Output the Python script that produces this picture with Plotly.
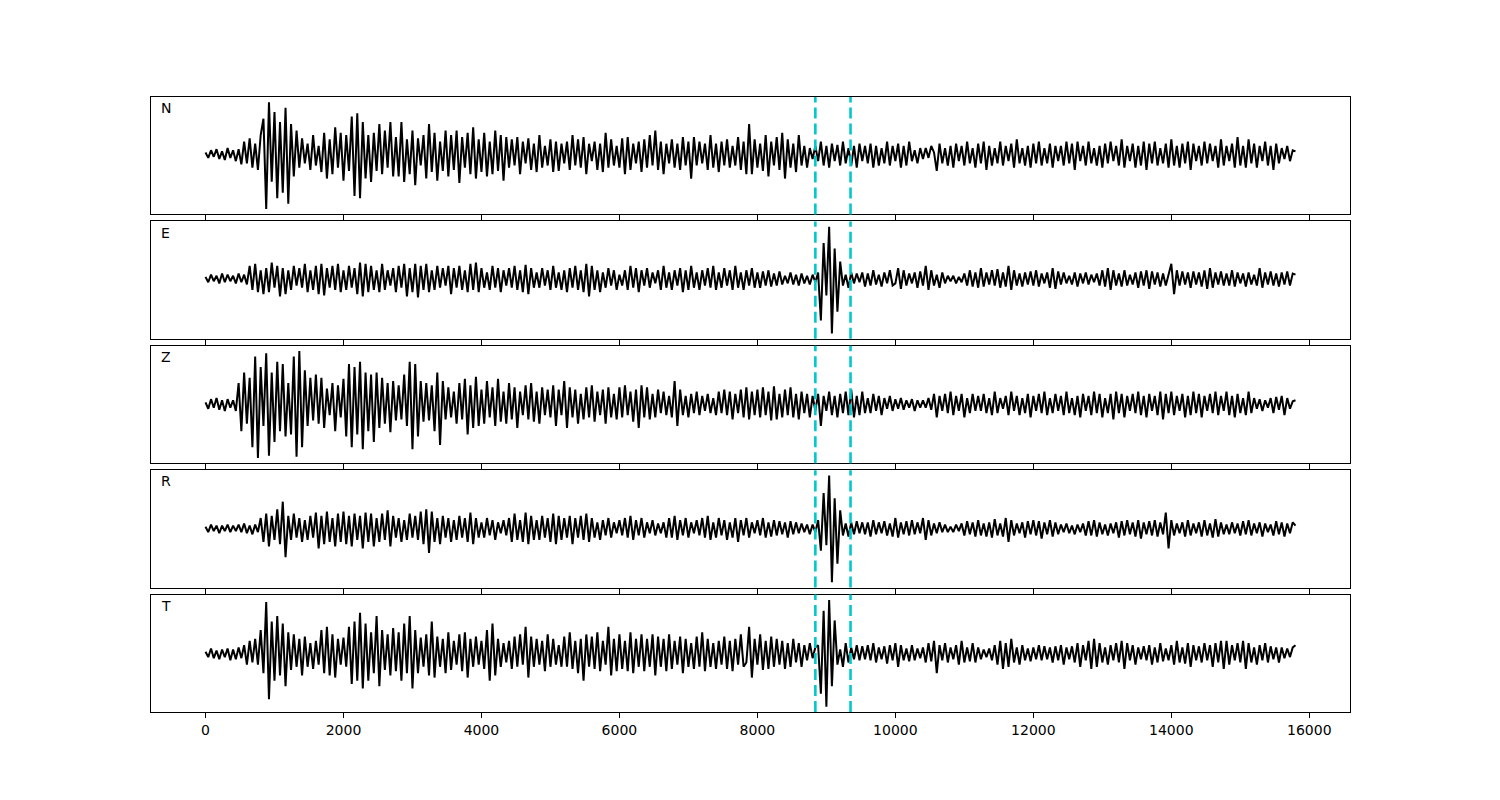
import numpy as np
import plotly.graph_objects as go
from plotly.subplots import make_subplots

# record length (samples) and the two picked times
duration = 15800
picks = [8840, 9350]
components = ["N", "E", "Z", "R", "T"]

trace_n = [
    2, -3, 4, -2, 5, -4, 3, -5, 6, -3,
    4, -6, 5, -9, 12, -8, 15, -12, 10, -14,
    18, 33, -50, 48, -25, 39, -40, 30, -35, 43,
    -45, 28, -20, 22, -12, 15, -8, 10, -14, 18,
    -10, 8, -16, 20, -22, 14, -18, 25, -12, 20,
    -24, 18, -15, 35, -38, 38, -40, 30, -22, 18,
    -25, 20, -15, 28, -18, 22, -12, 30, -20, 16,
    -20, 30, -25, 14, -18, 22, -28, 15, -10, 18,
    -22, 28, -16, 20, -24, 12, -15, 22, -20, 18,
    -14, 22, -26, 16, -12, 20, -18, 25, -22, 14,
    -16, 20, -20, 12, -18, 22, -15, 18, -24, 16,
    -12, 14, -10, 16, -18, 12, -8, 15, -14, 10,
    -16, 18, -12, 8, -10, 14, -16, 12, -15, 10,
    -8, 12, -14, 18, -10, 14, -12, 16, -18, 10,
    -6, 12, -14, 10, -16, 20, -12, 14, -10, 8,
    -12, 15, -18, 16, -14, 10, -8, 12, -16, 14,
    -12, 18, -10, 22, -14, 12, -18, 10, -8, 14,
    -12, 10, -14, 16, -10, 12, -22, 16, -10, 12,
    -8, 10, -14, 18, -12, 10, -16, 12, -10, 14,
    -12, 8, -10, 16, -14, 12, -18, 28, -18, 14,
    -12, 10, -15, 18, -20, 12, -10, 16, -14, 20,
    -22, 14, -12, 10, -16, 18, -10, 8, -12, 6,
    -4, 8, -6, 12, -10, 8, -12, 10, -6, 9,
    -10, 12, -8, 6, -10, 8, -12, 10, -6, 8,
    -8, 10, -12, 8, -10, 6, -8, 12, -10, 8,
    -6, 10, -12, 8, -10, 12, -6, 4, -8, 6,
    -4, 6, -3, 8, 2, -15, 10, -8, 6, -10,
    8, -12, 10, -6, 8, -10, 12, -8, 6, -12,
    10, -8, 12, -14, 8, -10, 6, -8, 12, -10,
    8, -6, 10, -12, 14, -8, 6, -10, 8, -12,
    10, -8, 12, -10, 6, -8, 10, -12, 8, -6,
    8, -10, 12, -8, 10, -14, 12, -6, 8, -10,
    12, -8, 6, -10, 8, -12, 10, -8, 12, -6,
    8, -10, 14, -12, 8, -6, 10, -12, 8, -10,
    12, -14, 10, -8, 12, -10, 6, -8, 10, -12,
    14, -10, 8, -12, 10, -8, 12, -14, 10, -6,
    8, -10, 12, -8, 10, -6, 8, -12, 14, -10,
    8, -6, 10, -12, 16, -10, 8, -12, 14, -8,
    10, -12, 8, -6, 12, -10, 8, -14, 10, -8,
    6, -4, 8, -6, 4, 3,
]

trace_e = [
    2, -3, 4, -2, 3, -4, 5, -3, 4, -2,
    3, -4, 5, -3, 4, -5, 12, -10, 14, -12,
    8, -14, 10, -12, 15, -8, 12, -16, 10, -14,
    8, -10, 12, -6, 10, -8, 14, -12, 8, -10,
    12, -14, 14, -15, 10, -8, 12, -10, 14, -12,
    8, -10, 12, -8, 10, -14, 15, -16, 14, -12,
    12, -10, 8, -12, 14, -10, 8, -6, 10, -12,
    12, -8, 14, -16, 10, -12, 14, -17, 12, -10,
    14, -12, 8, -10, 12, -8, 10, -6, 12, -14,
    10, -8, 12, -10, 8, -12, 14, -10, 15, -12,
    10, -8, 6, -10, 12, -8, 10, -12, 8, -6,
    10, -8, 12, -10, 8, -12, 13, -14, 10, -8,
    6, -8, 10, -6, 8, -10, 12, -8, 6, -10,
    8, -12, 10, -8, 12, -10, 8, -12, 14, -16,
    12, -10, 8, -12, 6, -8, 10, -6, 8, -10,
    4, -6, 8, -10, 12, -8, 10, -12, 8, -6,
    10, -8, 6, -4, 8, -10, 12, -8, 6, -10,
    8, -6, 10, -12, 8, -10, 12, -8, 6, -10,
    8, -6, 10, -8, 12, -10, 6, -8, 10, -6,
    8, -10, 12, -8, 6, -10, 8, -6, 10, -8,
    6, -8, 7, -6, 8, -7, 5, -6, 7, -5,
    3, -4, 6, -5, 4, -6, 5, -4, 3, -5,
    4, -3, 6, -38, 33, -15, 48, -50, 28, -30,
    16, -6, 4, -8, 6, -4, 5, -3, 6, -7,
    5, -6, 8, -5, 4, -7, 6, -4, 8, -6,
    -4, 10, -9, 8, -6, 5, -4, 6, -8, 7,
    -6, 12, -10, 8, -6, 4, -8, 6, -4, 3,
    -2, 3, -4, 2, -3, 5, -6, 8, -7, 6,
    -8, 10, -7, 6, -5, 8, -6, 9, -8, 6,
    -7, 12, -10, 8, -6, 5, -7, 6, -5, 7,
    -6, 8, -7, 5, -4, 6, -8, 10, -9, 7,
    -5, 6, -4, 3, -5, 6, -7, 5, -4, 6,
    -5, 4, -3, 5, -6, 8, -7, 10, -10, 8,
    -6, 5, -7, 8, -6, 4, -5, 6, -8, 7,
    -6, 8, -9, 7, -5, 6, -7, 5, -6, 4,
    14, -14, 8, -6, 7, -5, 6, -8, 7, -5,
    6, -7, 8, -9, 10, -8, 6, -5, 7, -6,
    5, -6, 8, -7, 6, -4, 5, -7, 6, -5,
    4, -6, 10, -8, 6, -5, 7, -6, 5, -7,
    6, -5, 7, -6, 5, 4,
]

trace_z = [
    2, -4, 5, -3, 6, -5, 4, -6, 5, -3,
    4, -6, 20, -25, 30, -18, 25, -40, 45, -50,
    35, -20, 48, -48, 30, -35, 40, -25, 38, -30,
    20, -28, 45, -49, 50, -40, 32, -20, 25, -15,
    28, -18, 25, -22, 15, -10, 20, -25, 18, -12,
    24, -30, 38, -40, 35, -28, 40, -42, 30, -25,
    28, -35, 30, -22, 25, -18, 20, -26, 22, -15,
    18, -14, 28, -20, 40, -42, 38, -30, 22, -16,
    20, -15, 18, -25, 30, -38, 22, -14, 16, -12,
    12, -18, 20, -14, 24, -28, 18, -22, 26, -20,
    14, -18, 22, -12, 16, -20, 24, -16, 12, -18,
    20, -14, 16, -22, 12, -10, 18, -14, 20, -16,
    12, -18, 16, -10, 14, -12, 18, -20, 14, -10,
    22, -22, 16, -12, 14, -18, 10, -14, 16, -12,
    18, -16, 12, -10, 14, -18, 16, -12, 10, -14,
    16, -12, 18, -10, 12, -16, 14, -22, 18, -12,
    16, -14, 10, -12, 14, -8, 12, -10, 8, -12,
    22, -20, 14, -10, 8, -12, 10, -8, 12, -10,
    8, -6, 10, -8, 6, -10, 12, -8, 14, -10,
    12, -14, 10, -8, 14, -12, 16, -14, 12, -10,
    14, -12, 16, -10, 12, -15, 17, -14, 10, -12,
    14, -10, 16, -12, 10, -14, 12, -8, 10, -12,
    8, -6, 10, -20, 8, -6, 12, -10, 8, -12,
    10, -8, 12, -10, 14, -12, 8, -10, 12, -8,
    6, -8, 10, -6, 8, -10, 6, -4, 8, -6,
    5, -4, 6, -5, 4, -3, 5, -6, 4, -3,
    4, -3, 6, -5, 10, -12, 8, -6, 10, -8,
    12, -10, 8, -6, 10, -12, 6, -8, 10, -6,
    8, -6, 10, -8, 6, -10, 12, -8, 6, -4,
    8, -10, 12, -6, 8, -10, 6, -8, 10, -12,
    8, -6, 10, -8, 12, -10, 6, -8, 10, -6,
    8, -10, 12, -8, 6, -10, 8, -12, 10, -6,
    8, -10, 12, -8, 10, -12, 6, -8, 10, -14,
    12, -8, 10, -12, 8, -6, 10, -8, 12, -10,
    8, -12, 10, -6, 8, -10, 12, -14, 10, -8,
    12, -10, 8, -6, 10, -12, 8, -10, 12, -8,
    10, -12, 8, -6, 10, -8, 12, -10, 8, -6,
    12, -10, 8, -12, 10, -8, 6, -10, 12, -8,
    6, -4, 5, -6, 4, -3, 6, -8, 7, -5,
    8, -10, 6, -4, 3, 4,
]

trace_r = [
    2, -3, 4, -2, 3, -4, 3, -2, 4, -3,
    3, -2, 4, -3, 5, -4, 3, -5, 4, -3,
    10, -12, 14, -16, 12, -10, 18, -14, 25, -26,
    12, -10, 14, -8, 10, -12, 8, -10, 12, -8,
    15, -18, 12, -14, 16, -12, 10, -16, 14, -12,
    16, -14, 12, -16, 14, -10, 12, -18, 15, -12,
    14, -16, 10, -12, 14, -10, 17, -16, 12, -8,
    10, -12, 8, -10, 14, -8, 12, -10, 16, -14,
    18, -22, 16, -12, 10, -14, 12, -8, 10, -12,
    8, -10, 12, -8, 10, -12, 15, -14, 10, -8,
    6, -8, 10, -6, 8, -10, 6, -4, 8, -6,
    10, -12, 14, -10, 8, -12, 15, -14, 12, -10,
    8, -10, 12, -8, 10, -12, 14, -14, 12, -10,
    10, -8, 12, -14, 10, -8, 12, -10, 14, -12,
    10, -8, 6, -10, 8, -6, 10, -8, 6, -4,
    8, -6, 10, -8, 12, -10, 8, -6, 10, -8,
    6, -4, 8, -6, 5, -4, 6, -8, 10, -8,
    12, -10, 8, -6, 10, -8, 6, -4, 8, -6,
    10, -8, 12, -10, 6, -8, 10, -6, 8, -10,
    6, -8, 10, -12, 8, -6, 10, -8, 6, -4,
    8, -6, 10, -8, 6, -7, 8, -6, 7, -5,
    6, -8, 7, -5, 6, -4, 5, -3, 4, -5,
    4, -3, 8, -20, 33, -15, 49, -49, 28, -32,
    17, -6, 5, -7, 6, -5, 7, -4, 6, -5,
    6, -7, 8, -5, 6, -4, 7, -6, 5, -7,
    10, -8, 6, -5, 7, -6, 8, -5, 6, -4,
    10, -10, 8, -6, 5, -4, 6, -3, 4, -3,
    2, -3, 4, -2, 5, -6, 7, -5, 6, -7,
    8, -6, 5, -7, 6, -8, 9, -6, 5, -7,
    10, -12, 8, -6, 5, -4, 6, -8, 7, -5,
    8, -6, 7, -9, 6, -5, 8, -7, 6, -5,
    4, -3, 5, -4, 3, -5, 4, -3, 5, -6,
    7, -6, 8, -7, 6, -5, 4, -6, 5, -4,
    6, -8, 7, -6, 8, -5, 6, -7, 8, -9,
    6, -5, 7, -6, 8, -7, 6, -5, 15, -18,
    8, -6, 5, -4, 6, -7, 8, -6, 5, -4,
    6, -7, 8, -6, 5, -8, 9, -7, 6, -5,
    4, -5, 6, -4, 5, -6, 7, -5, 8, -6,
    5, -4, 6, -7, 5, -3, 4, -6, 7, -5,
    6, -7, 5, -4, 6, 3,
]

trace_t = [
    2, -3, 5, -4, 3, -5, 4, -3, 5, -6,
    4, -5, 6, -4, 8, -10, 12, -8, 14, -10,
    22, -18, 48, -42, 30, -25, 35, -20, 28, -30,
    20, -15, 18, -12, 14, -20, 16, -12, 10, -14,
    12, -10, 22, -18, 25, -20, 18, -22, 14, -10,
    15, -12, 25, -28, 30, -25, 38, -32, 28, -25,
    20, -18, 35, -30, 22, -15, 18, -20, 24, -16,
    20, -25, 28, -18, 35, -32, 22, -18, 15, -12,
    18, -20, 30, -22, 16, -12, 14, -18, 20, -15,
    12, -10, 18, -16, 20, -22, 14, -12, 16, -10,
    12, -14, 22, -25, 28, -20, 14, -12, 10, -8,
    12, -14, 16, -12, 18, -10, 25, -22, 16, -12,
    14, -10, 12, -16, 18, -12, 14, -10, 8, -12,
    16, -12, 20, -14, 12, -18, 14, -25, 18, -12,
    16, -14, 20, -16, 12, -10, 25, -20, 14, -16,
    18, -14, 12, -16, 20, -18, 14, -12, 18, -16,
    14, -12, 18, -20, 16, -12, 14, -16, 18, -14,
    12, -10, 16, -18, 14, -12, 10, -14, 16, -12,
    20, -16, 14, -12, 10, -14, 12, -10, 16, -14,
    12, -16, 14, -10, 18, -12, -8, 25, -22, 14,
    -10, 18, -15, 12, -14, 16, -12, 14, -10, 12,
    -14, 10, -12, 14, -8, 10, -12, 8, -6, 10,
    -4, 6, 8, -37, 40, -49, 50, -30, 31, -10,
    4, -12, 10, -8, 6, -5, 8, -6, 7, -5,
    8, -6, 10, -8, 6, -5, 7, -9, 8, -6,
    10, -12, 8, -6, 5, -7, 8, -6, 5, -4,
    6, -8, 10, -7, 12, -18, 8, -6, 10, -8,
    6, -5, 8, -10, 12, -8, 6, -7, 10, -8,
    6, -5, 4, -3, 5, -6, 8, -10, 12, -14,
    10, -12, 14, -8, 6, -10, 8, -6, 5, -7,
    6, -5, 8, -6, 7, -5, 6, -8, 7, -6,
    8, -10, 6, -5, 7, -8, 10, -12, 8, -6,
    12, -14, 14, -12, 10, -8, 6, -10, 8, -6,
    10, -8, 12, -14, 10, -6, 8, -10, 6, -5,
    7, -6, 8, -10, 6, -8, 10, -7, 5, -6,
    8, -10, 12, -8, 6, -9, 10, -12, 8, -6,
    7, -8, 10, -6, 8, -12, 10, -8, 12, -14,
    12, -10, 8, -6, 10, -8, 12, -14, 10, -8,
    6, -10, 8, -6, 10, -8, 7, -5, 6, -8,
    6, -4, 5, -3, 6, 8,
]

traces = [trace_n, trace_e, trace_z, trace_r, trace_t]

fig = make_subplots(rows=5, cols=1, shared_xaxes=True, vertical_spacing=0.0114)

for row, (name, data) in enumerate(zip(components, traces), start=1):
    t = np.linspace(0, duration, len(data))
    fig.add_trace(
        go.Scatter(x=t, y=data, mode="lines", line=dict(color="black", width=2),
                   name=name, showlegend=False, hoverinfo="skip"),
        row=row, col=1,
    )
    lo, hi = min(data), max(data)
    pad = 0.05 * (hi - lo)
    fig.update_yaxes(range=[lo - pad, hi + pad], row=row, col=1)

    axis = "" if row == 1 else str(row)
    for p in picks:
        fig.add_shape(type="line", x0=p, x1=p, y0=0, y1=1,
                      xref="x" + axis, yref="y" + axis + " domain",
                      line=dict(color="#00c8cc", width=2.6, dash="11px,5px"),
                      layer="above")
    fig.add_annotation(text=name, x=0.007, y=0.99, xref="x" + axis + " domain",
                       yref="y" + axis + " domain", xanchor="left", yanchor="top",
                       showarrow=False, font=dict(size=14, color="black"))

xpad = 0.05 * duration
fig.update_xaxes(range=[-xpad, duration + xpad], tickvals=list(range(0, 16001, 2000)),
                 tickformat="d", ticks="outside", ticklen=5, tickcolor="black",
                 showgrid=False, zeroline=False, showline=True, linecolor="black",
                 linewidth=1, mirror=True, tickfont=dict(size=14, color="black"))
fig.update_yaxes(showticklabels=False, ticks="", showgrid=False, zeroline=False,
                 showline=True, linecolor="black", linewidth=1, mirror=True)

fig.update_layout(
    width=1500, height=800,
    margin=dict(l=143, r=158, t=89, b=96),
    paper_bgcolor="white", plot_bgcolor="white",
    font=dict(family="DejaVu Sans", size=14, color="black"),
)

fig.write_html("out.html")
